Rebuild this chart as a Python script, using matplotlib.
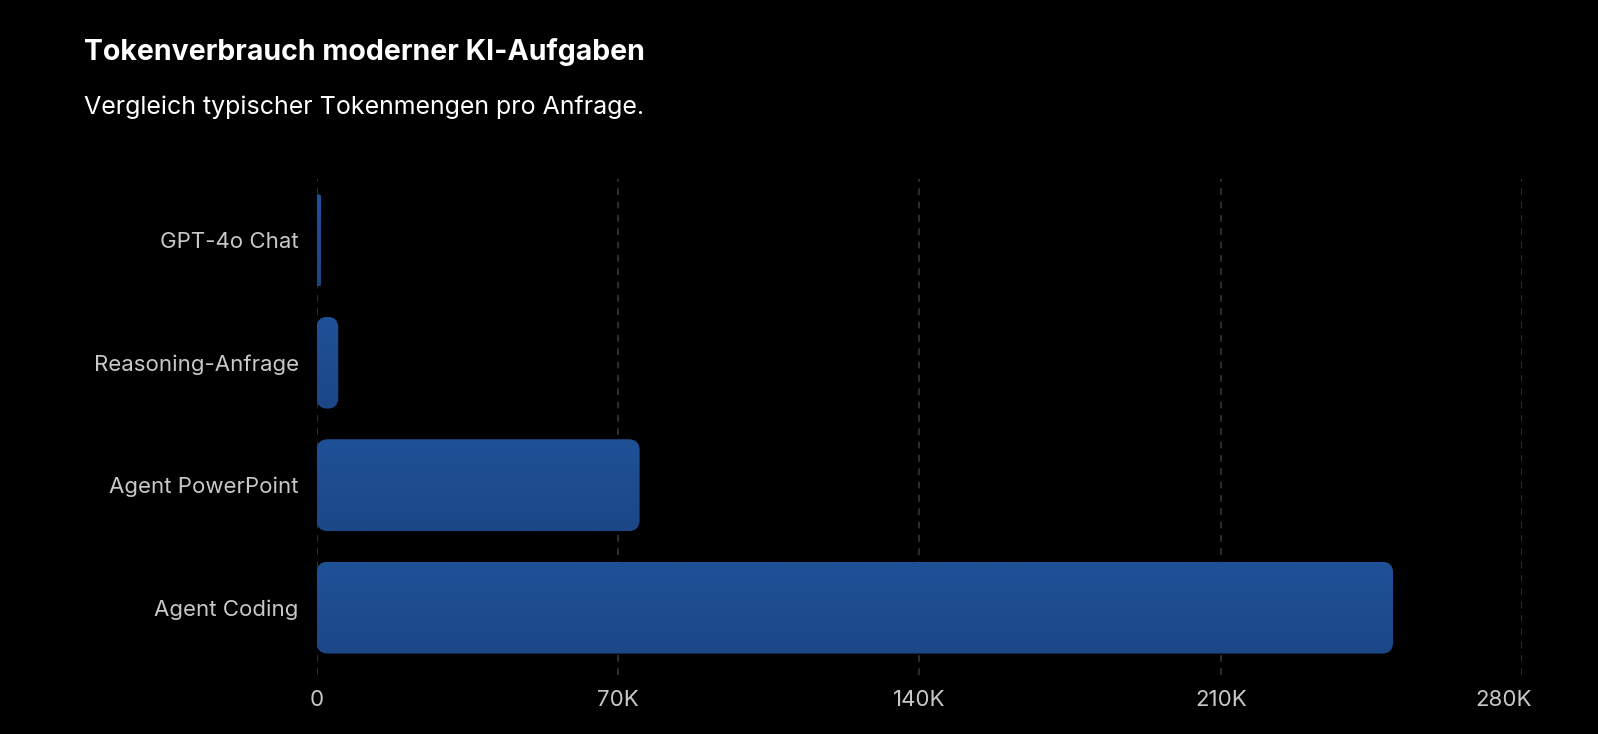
import matplotlib
matplotlib.use("Agg")
import numpy as np
import matplotlib.pyplot as plt
from matplotlib.patches import FancyBboxPatch
from matplotlib.colors import LinearSegmentedColormap
from matplotlib.ticker import FuncFormatter
from matplotlib.transforms import ScaledTranslation

# daten
kategorien = ["GPT-4o Chat", "Reasoning-Anfrage", "Agent PowerPoint", "Agent Coding"]
tokens = [1000, 5000, 75000, 250000]
xticks = [0, 70000, 140000, 210000, 280000]

titel = "Tokenverbrauch moderner KI-Aufgaben"
untertitel = "Vergleich typischer Tokenmengen pro Anfrage."

plt.rcParams['font.family'] = ['Inter', 'DejaVu Sans']

fig = plt.figure(figsize=(15.98, 7.34), dpi=100, facecolor='black')
ax = fig.add_axes([0.1982, 0.0804, 0.7544, 0.6757], facecolor='black')

verlauf = LinearSegmentedColormap.from_list("bar", ['#1f5197', '#1b4787'])
y = list(range(len(kategorien)))
bars = ax.barh(y, tokens, height=0.75, color='none')

ax.set_xlim(0, 280000)
ax.set_ylim(3.55, -0.5)

# rundung: pixel -> daten
ax_w = 0.7544 * 1598
ax_h = 0.6757 * 734
x_per_px = 280000 / ax_w
y_per_px = 4.05 / ax_h
r_px = 11

grad = np.linspace(0, 1, 64).reshape(-1, 1)
for b in bars:
    x0, y0 = b.get_x(), b.get_y()
    w, h = b.get_width(), b.get_height()
    r = min(r_px * x_per_px, w / 2)
    p = FancyBboxPatch((x0, y0), w, h,
                       boxstyle="round,pad=0,rounding_size=%f" % r,
                       mutation_aspect=y_per_px / x_per_px,
                       facecolor='none', edgecolor='none', zorder=3)
    ax.add_patch(p)
    im = ax.imshow(grad, cmap=verlauf, aspect='auto', extent=(x0, x0 + w, y0 + h, y0),
                   origin='upper', zorder=3, interpolation='bilinear')
    im.set_clip_path(p)
    b.remove()

ax.set_xlim(0, 280000)
ax.set_ylim(3.55, -0.5)

ax.set_xticks(xticks)
ax.xaxis.set_major_formatter(FuncFormatter(lambda v, pos: "0" if v == 0 else "%dK" % (v / 1000)))
ax.set_yticks(y)
ax.set_yticklabels(kategorien)
ax.tick_params(axis='x', length=0, pad=11, labelsize=16, labelcolor='#c8c8c8')
ax.tick_params(axis='y', length=0, pad=13, labelsize=16, labelcolor='#c8c8c8')

# letzte beschriftung nach links ruecken
letzte = ax.get_xticklabels()[-1]
letzte.set_transform(letzte.get_transform() + ScaledTranslation(-19 / 100, 0, fig.dpi_scale_trans))

ax.grid(axis='x', color='#363636', linestyle=(0, (4, 4)), linewidth=1.2, zorder=0)
ax.grid(axis='y', visible=False)
for s in ax.spines.values():
    s.set_visible(False)

fig.text(84 / 1598, 1 - 52 / 734, titel, color='white', fontsize=20.5, fontweight='bold', va='center', ha='left')
fig.text(84 / 1598, 1 - 107 / 734, untertitel, color='white', fontsize=18, va='center', ha='left')

fig.savefig("out.png", dpi=100, facecolor='black')
